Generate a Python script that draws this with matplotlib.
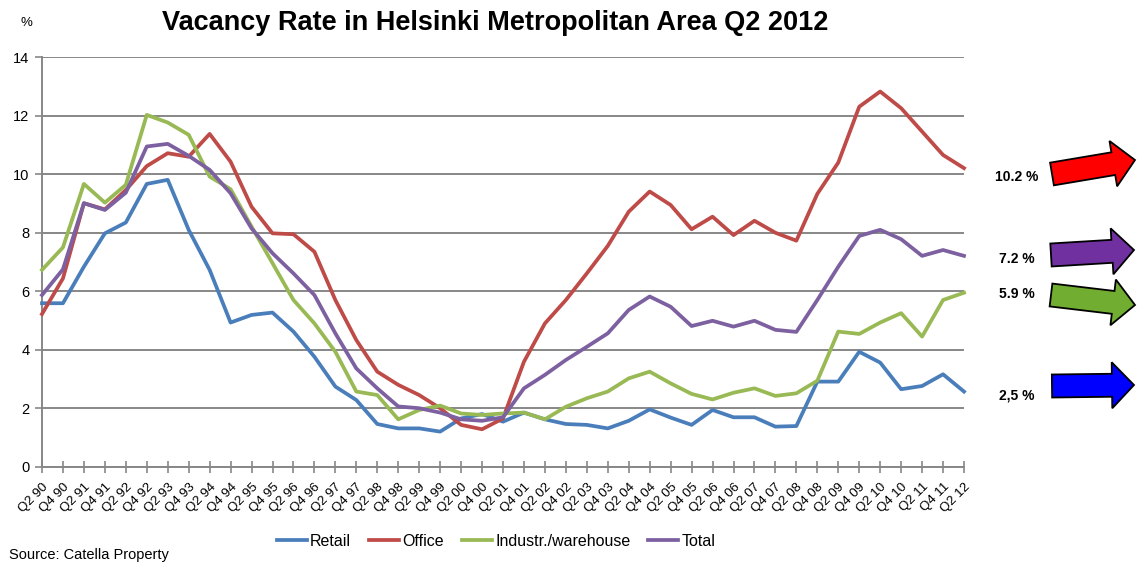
import numpy as np
import matplotlib
matplotlib.use("Agg")
import matplotlib.pyplot as plt
from matplotlib.patches import Polygon

plt.rcParams['font.family'] = ['Liberation Sans', 'DejaVu Sans']

# half-year labels Q2 90 ... Q2 12
quarters = []
for year in range(1990, 2013):
   yy = "%02d" % (year % 100)
   quarters.append("Q2 " + yy)
   if year < 2012:
      quarters.append("Q4 " + yy)

retail = [5.59, 5.59, 6.84, 7.98, 8.35, 9.67, 9.81, 8.10, 6.73, 4.93,
          5.19, 5.27, 4.62, 3.76, 2.74, 2.28, 1.46, 1.31, 1.31, 1.20,
          1.65, 1.80, 1.54, 1.85, 1.62, 1.46, 1.43, 1.31, 1.57, 1.96,
          1.68, 1.43, 1.94, 1.69, 1.69, 1.37, 1.39, 2.91, 2.91, 3.93,
          3.56, 2.65, 2.76, 3.16, 2.57]
office = [5.22, 6.44, 9.01, 8.80, 9.46, 10.28, 10.72, 10.60, 11.38, 10.43,
          8.89, 7.98, 7.95, 7.35, 5.70, 4.33, 3.25, 2.80, 2.45, 2.00,
          1.43, 1.28, 1.65, 3.59, 4.90, 5.70, 6.61, 7.55, 8.72, 9.41,
          8.95, 8.12, 8.55, 7.92, 8.41, 8.00, 7.73, 9.33, 10.40, 12.31,
          12.83, 12.26, 11.46, 10.66, 10.21]
industrial = [6.73, 7.50, 9.67, 9.03, 9.64, 12.03, 11.77, 11.35, 9.92, 9.49,
              8.21, 6.96, 5.70, 4.90, 3.93, 2.57, 2.45, 1.62, 1.94, 2.09,
              1.82, 1.77, 1.82, 1.85, 1.62, 2.05, 2.34, 2.57, 3.02, 3.25,
              2.85, 2.49, 2.30, 2.53, 2.68, 2.42, 2.51, 2.94, 4.62, 4.54,
              4.93, 5.25, 4.45, 5.70, 5.95]
total = [5.87, 6.75, 9.01, 8.78, 9.37, 10.95, 11.04, 10.63, 10.15, 9.35,
         8.15, 7.30, 6.61, 5.87, 4.56, 3.36, 2.68, 2.06, 2.00, 1.85,
         1.62, 1.57, 1.69, 2.68, 3.14, 3.65, 4.10, 4.56, 5.36, 5.82,
         5.47, 4.81, 4.99, 4.79, 4.99, 4.68, 4.61, 5.70, 6.84, 7.89,
         8.10, 7.78, 7.21, 7.41, 7.21]

seriesNames = ["Retail", "Office", "Industr./warehouse", "Total"]
latestLabels = ["2,5 %", "10.2 %", "5.9 %", "7.2 %"]

GRID = "#878787"


def arrowShape(tail, tip, shaft=11.5, head=23, headLen=22):
   # polygon of a block arrow in pixel coords
   tail = np.array(tail, dtype=float)
   tip = np.array(tip, dtype=float)
   d = tip - tail
   d = d / np.hypot(d[0], d[1])
   n = np.array([-d[1], d[0]])
   base = tip - d * headLen
   pts = [tail + n * shaft, base + n * shaft, base + n * head, tip,
          base - n * head, base - n * shaft, tail - n * shaft]
   return pts


def main():
   fig = plt.figure(figsize=(11.37, 5.62), dpi=100)
   ax = fig.add_axes([42 / 1137, 1 - 466.7 / 562, 922 / 1137, 409.4 / 562])

   x = np.arange(len(quarters))
   colors = ["#4A7EBB", "#BE4B48", "#98B954", "#7D60A0"]
   for vals, name, col in zip([retail, office, industrial, total], seriesNames, colors):
      ax.plot(x, vals, color=col, lw=2.7, label=name, solid_joinstyle='round',
              clip_on=False, zorder=3)

   ax.set_xlim(0, len(quarters) - 1)
   ax.set_ylim(0, 14)
   ax.set_yticks(np.arange(0, 15, 2))
   ax.yaxis.grid(True, color=GRID, lw=1.4)
   ax.set_axisbelow(True)
   ax.set_xticks(x)
   ax.set_xticklabels(quarters, rotation=45, ha='right', va='top',
                      rotation_mode='anchor', fontsize=9.5)
   ax.tick_params(axis='x', direction='inout', length=8, width=1.2, color=GRID, pad=6)
   ax.tick_params(axis='y', direction='out', length=5, width=1.2, color=GRID,
                  labelsize=10.5, pad=4)
   for s in ['top', 'right']:
      ax.spines[s].set_visible(False)
   for s in ['left', 'bottom']:
      ax.spines[s].set_color(GRID)
      ax.spines[s].set_linewidth(1.4)

   fig.text(495 / 1137, 1 - 23 / 562, "Vacancy Rate in Helsinki Metropolitan Area Q2 2012",
            ha='center', va='center', fontsize=19.5, fontweight='bold')
   fig.text(26 / 1137, 1 - 23 / 562, "%", ha='center', va='center', fontsize=9.5)
   fig.text(9 / 1137, 1 - 555 / 562, "Source: Catella Property", ha='left',
            va='center', fontsize=10.5)

   fig.legend(loc='center', bbox_to_anchor=(496 / 1137, 1 - 541 / 562), ncol=4,
              frameon=False, fontsize=11.5, handlelength=1.9, handletextpad=0.2,
              columnspacing=1.1, borderpad=0)

   # overlay in pixel coords for the arrows
   over = fig.add_axes([0, 0, 1, 1])
   over.set_xlim(0, 1137)
   over.set_ylim(562, 0)
   over.axis('off')
   arrows = [((1052, 386), (1134, 385), "#0000FF", 395),
             ((1052, 174), (1135, 160), "#FF0000", 177),
             ((1051, 295), (1135, 305), "#70AD30", 294),
             ((1051, 255), (1134, 250), "#7030A0", 259)]
   for (tail, tip, col, ty), lab in zip(arrows, latestLabels):
      over.add_patch(Polygon(arrowShape(tail, tip), closed=True, facecolor=col,
                             edgecolor='black', lw=1.3))
      over.text(1017, ty, lab, ha='center', va='center', fontsize=10,
                fontweight='bold')

   fig.savefig("out.png", dpi=100)


main()
